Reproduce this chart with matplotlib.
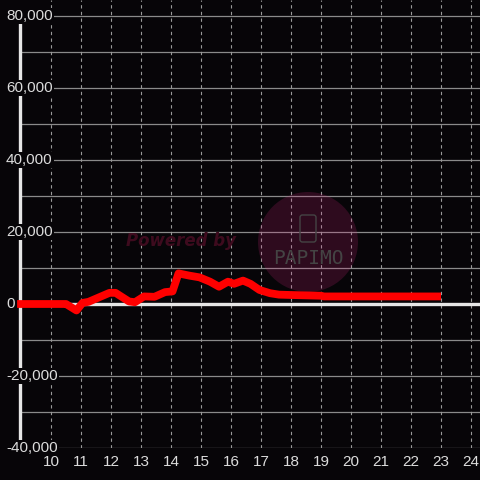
import numpy as np
import matplotlib
matplotlib.use("Agg")
import matplotlib.pyplot as plt
from matplotlib.patches import Circle, FancyBboxPatch

# hours of day and running balance
hours = [8.87, 10.4, 10.5, 10.85, 11.05, 11.25, 11.95, 12.15, 12.6, 12.8,
         13.1, 13.45, 13.8, 14.05, 14.25, 14.6, 14.95, 15.3, 15.6, 15.9,
         16.1, 16.4, 16.65, 16.95, 17.3, 17.6, 18.0, 19.0, 19.1, 23.0]
values = [0, 0, 0, -1800, 300, 600, 3100, 3100, 700, 500,
          2100, 2000, 3300, 3500, 8500, 7900, 7400, 6200, 4800, 6200,
          5600, 6500, 5600, 3900, 3000, 2600, 2500, 2300, 2100, 2100]

x_ticks = list(range(10, 25))
y_ticks = [80000, 60000, 40000, 20000, 0, -20000, -40000]
y_grid = list(range(-40000, 80001, 10000))

BG = "#070508"
TXT = "#dcdcdc"
plt.rcParams["font.family"] = ["Liberation Sans", "DejaVu Sans"]

X0, X1 = 8.833, 24.3
SPINE_X = 8.983

fig = plt.figure(figsize=(4.8, 4.8), dpi=100, facecolor=BG)
ax = fig.add_axes((16 / 480, 32 / 480, 464 / 480, 448 / 480), facecolor=BG)
ax.set_xlim(X0, X1)
ax.set_ylim(-40000, 84444)

for s in ax.spines.values():
    s.set_visible(False)
ax.set_xticks([])
ax.set_yticks([])

# grid
ax.hlines(y_grid, SPINE_X, X1, color="#8a8a8a", lw=0.9, zorder=1)
for h in x_ticks:
    ax.axvline(h, color="#9a9a9a", lw=0.8, ls=(0, (3, 3)), zorder=1)

# watermark
ax.add_patch(Circle((308 / 480, 1 - 242 / 480), 50 / 480, transform=fig.transFigure,
                    facecolor=(0.85, 0.15, 0.5), alpha=0.19, edgecolor="none", zorder=1.2))
ax.add_patch(FancyBboxPatch((300 / 480, 1 - 242 / 480), 16 / 480, 27 / 480,
                            boxstyle="round,pad=0,rounding_size=0.005",
                            transform=fig.transFigure, facecolor="none",
                            edgecolor="#444444", lw=1.0, zorder=1.5))
ax.text(308 / 480, 1 - 259 / 480, "PAPIMO", transform=fig.transFigure, color="#444444",
        fontsize=14, family="DejaVu Sans Mono", ha="center", va="center",
        zorder=1.5)
ax.text(181 / 480, 1 - 241 / 480, "Powered by", transform=fig.transFigure,
        color="#3e0b1e", fontsize=12, fontweight="bold", fontstyle="italic",
        family="DejaVu Sans", ha="center", va="center", zorder=1.5)

# left axis line and zero line
ax.vlines(SPINE_X, -40000, 80000, color="#e6e6e6", lw=2.4, zorder=2)
ax.hlines(0, SPINE_X, X1, color="#e6e6e6", lw=2.4, zorder=2)

# data
ax.plot(hours, values, color="#ff0000", lw=5.6, solid_joinstyle="round",
        solid_capstyle="butt", zorder=3)

# labels
ytrans = ax.get_yaxis_transform()
for v in y_ticks:
    ax.text(-10 / 464, v, f"{v:,}", transform=ytrans, ha="left", va="center",
            color=TXT, fontsize=11, zorder=10, clip_on=False,
            bbox=dict(facecolor=BG, edgecolor="none", pad=1.0))
xtrans = ax.get_xaxis_transform()
for h in x_ticks:
    ax.text(h, -14 / 448, str(h), transform=xtrans, ha="center", va="center",
            color=TXT, fontsize=11, clip_on=False)

fig.savefig("out.png", dpi=100, facecolor=BG)
